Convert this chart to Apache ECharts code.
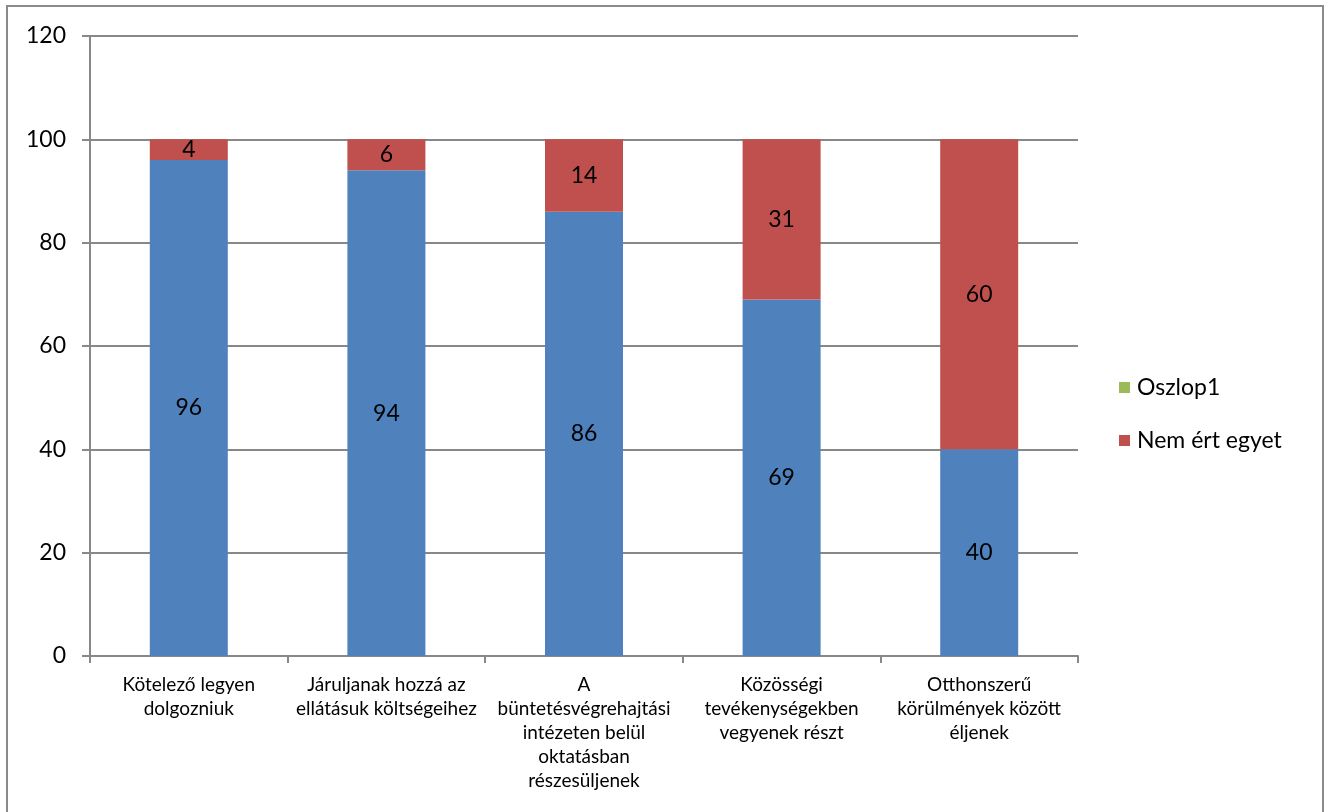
<!DOCTYPE html>
<html>
<head>
<meta charset="utf-8">
<title>Egyetértés a fogvatartottakkal kapcsolatos állításokkal</title>
<script src="https://cdn.jsdelivr.net/npm/echarts@6/dist/echarts.min.js"></script>
<style>
  html, body { margin: 0; padding: 0; background: #ffffff; }
  #chart { width: 1328px; height: 812px; }
</style>
</head>
<body>
<div id="chart"></div>
<script>
// Statements (category axis), with line breaks as shown under the bars
const categories = [
  'Kötelező legyen\ndolgozniuk',
  'Járuljanak hozzá az\nellátásuk költségeihez',
  'A\nbüntetésvégrehajtási\nintézeten belül\noktatásban\nrészesüljenek',
  'Közösségi\ntevékenységekben\nvegyenek részt',
  'Otthonszerű\nkörülmények között\néljenek'
];

// Shares in percent
const egyetert = [96, 94, 86, 69, 40];
const nemErtEgyet = [4, 6, 14, 31, 60];
const oszlop1 = [];

const yTicks = { min: 0, max: 120, interval: 20 };

const fontFamily = 'Lato, "Open Sans", "DejaVu Sans", sans-serif';
const axisGray = '#888888';

const chart = echarts.init(document.getElementById('chart'), null, { renderer: 'canvas' });

const labelStyle = {
  show: true,
  position: 'inside',
  color: '#000000',
  fontSize: 23,
  fontFamily: fontFamily
};

chart.setOption({
  animation: false,
  backgroundColor: '#ffffff',
  textStyle: { fontFamily: fontFamily },
  graphic: [{
    type: 'rect',
    shape: { x: 7, y: 6, width: 1316, height: 900 },
    style: { fill: 'none', stroke: '#8a8a8a', lineWidth: 2 },
    silent: true
  }],
  grid: { left: 90, right: 250, top: 36, bottom: 156, containLabel: false },
  legend: {
    orient: 'vertical',
    left: 1114,
    top: 371,
    itemWidth: 11,
    itemHeight: 11,
    itemGap: 30,
    icon: 'rect',
    data: ['Oszlop1', 'Nem ért egyet'],
    textStyle: { fontSize: 23, color: '#000000', fontFamily: fontFamily, padding: [0, 0, 0, 2] }
  },
  xAxis: {
    type: 'category',
    data: categories,
    axisLine: { lineStyle: { color: axisGray, width: 2 } },
    axisTick: { show: true, length: 7, interval: 0, lineStyle: { color: axisGray, width: 2 } },
    axisLabel: {
      interval: 0,
      color: '#000000',
      fontSize: 19,
      lineHeight: 24,
      margin: 17,
      fontFamily: fontFamily
    },
    splitLine: { show: false }
  },
  yAxis: {
    type: 'value',
    min: yTicks.min,
    max: yTicks.max,
    interval: yTicks.interval,
    axisLine: { show: true, lineStyle: { color: axisGray, width: 2 } },
    axisTick: { show: true, length: 8, lineStyle: { color: axisGray, width: 2 } },
    axisLabel: { color: '#000000', fontSize: 23, margin: 24, fontFamily: fontFamily },
    splitLine: { show: true, lineStyle: { color: axisGray, width: 2 } }
  },
  series: [
    {
      name: 'Egyetért',
      type: 'bar',
      stack: 'total',
      barWidth: 78,
      data: egyetert,
      itemStyle: { color: '#4F81BD' },
      label: labelStyle
    },
    {
      name: 'Nem ért egyet',
      type: 'bar',
      stack: 'total',
      barWidth: 78,
      data: nemErtEgyet,
      itemStyle: { color: '#C0504D' },
      label: labelStyle
    },
    {
      name: 'Oszlop1',
      type: 'bar',
      stack: 'total',
      barWidth: 78,
      data: oszlop1,
      itemStyle: { color: '#9BBB59' }
    }
  ]
});
</script>
</body>
</html>
